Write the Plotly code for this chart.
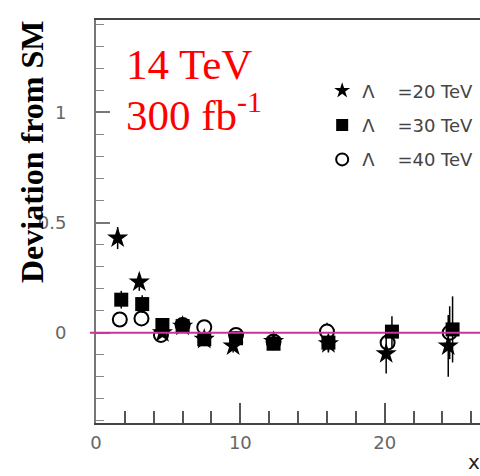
import plotly.graph_objects as go

# Data
labels = ["Λ\u00a0\u00a0\u00a0\u00a0=20 TeV", "Λ\u00a0\u00a0\u00a0\u00a0=30 TeV", "Λ\u00a0\u00a0\u00a0\u00a0=40 TeV"]

x20 = [1.5, 3.0, 4.6, 6.0, 7.5, 9.5, 12.3, 16.1, 20.1, 24.4]
y20 = [0.43, 0.23, 0.0, 0.03, -0.03, -0.06, -0.04, -0.05, -0.095, -0.06]
e20 = [0.05, 0.04, 0.02, 0.02, 0.02, 0.03, 0.03, 0.04, 0.09, 0.14]

x30 = [1.75, 3.2, 4.6, 6.0, 7.5, 9.7, 12.3, 16.1, 20.5, 24.7]
y30 = [0.15, 0.13, 0.035, 0.03, -0.03, -0.025, -0.05, -0.045, 0.005, 0.015]
e30 = [0.04, 0.04, 0.03, 0.03, 0.03, 0.03, 0.03, 0.04, 0.07, 0.15]

x40 = [1.65, 3.15, 4.5, 6.0, 7.5, 9.7, 12.3, 16.0, 20.2, 24.5]
y40 = [0.06, 0.065, -0.01, 0.035, 0.025, -0.01, -0.04, 0.005, -0.045, 0.0]
e40 = [0.03, 0.03, 0.03, 0.03, 0.03, 0.03, 0.03, 0.04, 0.06, 0.12]

fig = go.Figure()

def err(e):
    return dict(type="data", array=e, visible=True, color="black", thickness=1.5, width=0)

fig.add_trace(go.Scatter(x=x40, y=y40, mode="markers", name=labels[2], legendgroup="c", legendrank=3,
                         error_y=err(e40),
                         marker=dict(symbol="circle", size=14, color="white", line=dict(color="black", width=2))))
fig.add_trace(go.Scatter(x=x30, y=y30, mode="markers", name=labels[1], legendgroup="b", legendrank=2,
                         error_y=err(e30),
                         marker=dict(symbol="square", size=14, color="black")))
fig.add_trace(go.Scatter(x=x20, y=y20, mode="markers", name=labels[0], legendgroup="a", legendrank=1,
                         error_y=err(e20),
                         marker=dict(symbol="star", size=16, color="black")))

fig.add_shape(type="line", xref="paper", yref="y", x0=-0.016, x1=1.0, y0=0, y1=0,
              line=dict(color="#CC3399", width=2))

tickfont = dict(family="DejaVu Sans", size=18, color="#666666")

fig.update_layout(
    width=480, height=476,
    margin=dict(l=96, r=0, t=20, b=53),
    paper_bgcolor="white", plot_bgcolor="white",
    showlegend=True,
    legend=dict(x=0.589, y=0.87, xanchor="left", yanchor="top",
                font=dict(family="DejaVu Sans", size=18, color="#444444"),
                bgcolor="rgba(255,255,255,0)", tracegroupgap=8,
                traceorder="grouped", itemsizing="constant"),
    xaxis=dict(range=[0, 26.6], showgrid=False, zeroline=False,
               showline=True, linecolor="#444444", linewidth=2, mirror=True,
               ticks="inside", ticklen=20, tickwidth=1.5, tickcolor="#555555",
               tickvals=[0, 10, 20], ticktext=["0", "10", "20"],
               minor=dict(tickvals=[2, 4, 6, 8, 12, 14, 16, 18, 22, 24, 26], ticklen=12,
                          tickwidth=1.5, tickcolor="#555555", ticks="inside"),
               tickfont=tickfont, ticklabelstandoff=2),
    yaxis=dict(range=[-0.41, 1.42], showgrid=False, zeroline=False,
               showline=True, linecolor="#777777", linewidth=2, mirror=False,
               ticks="inside", ticklen=14, tickwidth=1.5, tickcolor="#777777",
               tickvals=[0, 0.5, 1], ticktext=["0", "0.5", "1"],
               minor=dict(dtick=0.1, ticklen=8, tickwidth=1.2, tickcolor="#888888", ticks="inside"),
               tickfont=tickfont, ticklabelstandoff=24),
)

fig.add_annotation(text="<b>Deviation from SM</b>", textangle=-90, xref="paper", yref="paper",
                   x=-0.167, y=0.672, xanchor="center", yanchor="middle", showarrow=False,
                   font=dict(family="Liberation Serif", size=32, color="black"))
fig.add_annotation(text="14 TeV", xref="x", yref="y", x=1.95, y=1.22, xanchor="left", yanchor="middle",
                   showarrow=False, font=dict(family="Liberation Serif", size=43, color="red"))
fig.add_annotation(text="300 fb<sup>-1</sup>", xref="x", yref="y", x=1.95, y=1.0, xanchor="left",
                   yanchor="middle", showarrow=False,
                   font=dict(family="Liberation Serif", size=43, color="red"))
fig.add_annotation(text="x", xref="paper", yref="paper", x=(466 - 96) / 384, y=(423 - 462) / 403,
                   xanchor="left", yanchor="middle", showarrow=False,
                   font=dict(family="DejaVu Sans", size=20, color="#222222"))

fig.write_html("out.html")
